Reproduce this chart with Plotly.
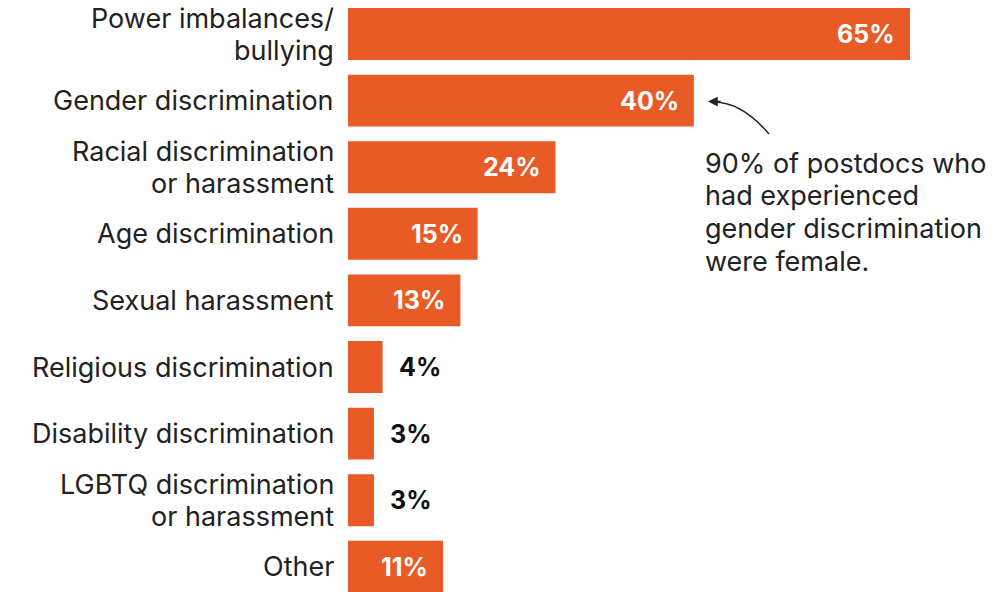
import plotly.graph_objects as go

# Share of postdocs reporting each type of discrimination or harassment (%)
categories = [
    "Power imbalances/\nbullying",
    "Gender discrimination",
    "Racial discrimination\nor harassment",
    "Age discrimination",
    "Sexual harassment",
    "Religious discrimination",
    "Disability discrimination",
    "LGBTQ discrimination\nor harassment",
    "Other",
]
values = [65, 40, 24, 15, 13, 4, 3, 3, 11]
value_labels = ["65%", "40%", "24%", "15%", "13%", "4%", "3%", "3%", "11%"]

note_lines = [
    "90% of postdocs who",
    "had experienced",
    "gender discrimination",
    "were female.",
]

ORANGE = "#E85B26"
TEXT = "#222222"
FONT = "Inter"
LINE_PITCH = 32  # px between lines of multi-line text
positions = list(range(len(categories)))

fig = go.Figure(
    go.Bar(
        x=values,
        y=positions,
        orientation="h",
        marker=dict(color=ORANGE, line=dict(width=0)),
        width=0.78,
        hoverinfo="skip",
    )
)

# Category labels, right-aligned against the bars
for pos, cat in zip(positions, categories):
    lines = cat.split("\n")
    n = len(lines)
    for i, line in enumerate(lines):
        fig.add_annotation(
            x=0, y=pos, xref="x", yref="y",
            text=line, showarrow=False,
            xanchor="right", yanchor="middle", xshift=-12,
            yshift=-(i - (n - 1) / 2) * LINE_PITCH,
            font=dict(family=FONT, size=27, color=TEXT),
        )

# Value labels: white inside long bars, black just past short ones
for pos, val, lab in zip(positions, values, value_labels):
    inside = val >= 10
    fig.add_annotation(
        x=val, y=pos, xref="x", yref="y",
        text=f"<b>{lab}</b>",
        showarrow=False,
        xanchor="right" if inside else "left",
        xshift=-13 if inside else 14,
        font=dict(family=FONT, size=25, color="white" if inside else "#111111"),
    )

# Callout next to the gender bar
px = lambda p: (p - 348) / 8.646
py = lambda p: (p - 34) / 66.6
for i, line in enumerate(note_lines):
    fig.add_annotation(
        x=px(703), y=py(163 + i * 32.7), xref="x", yref="y",
        text=line, showarrow=False,
        xanchor="left", yanchor="middle", align="left",
        font=dict(family=FONT, size=27, color=TEXT),
    )

# Curved pointer from the callout to the gender bar
x0, y0 = px(769), py(134)
cx, cy = px(741), py(101)
x1, y1 = px(712), py(102)
fig.add_shape(
    type="path", xref="x", yref="y",
    path=f"M {x0},{y0} Q {cx},{cy} {x1},{y1}",
    line=dict(color=TEXT, width=1.5),
)
fig.add_annotation(
    x=px(708), y=py(101.5), xref="x", yref="y",
    ax=px(722), ay=py(101.5), axref="x", ayref="y",
    text="", showarrow=True,
    arrowhead=2, arrowsize=1.3, arrowwidth=1.5, arrowcolor=TEXT,
)

fig.update_layout(
    width=1004, height=592,
    margin=dict(l=348, r=0, t=0, b=0),
    paper_bgcolor="white", plot_bgcolor="white",
    showlegend=False,
    xaxis=dict(range=[0, (1004 - 348) / 8.646], visible=False, fixedrange=True),
    yaxis=dict(
        range=[(592 - 34) / 66.6, -34 / 66.6],
        showticklabels=False, ticks="",
        showgrid=False, zeroline=False, showline=False,
        fixedrange=True,
    ),
)

fig.write_html("out.html")
